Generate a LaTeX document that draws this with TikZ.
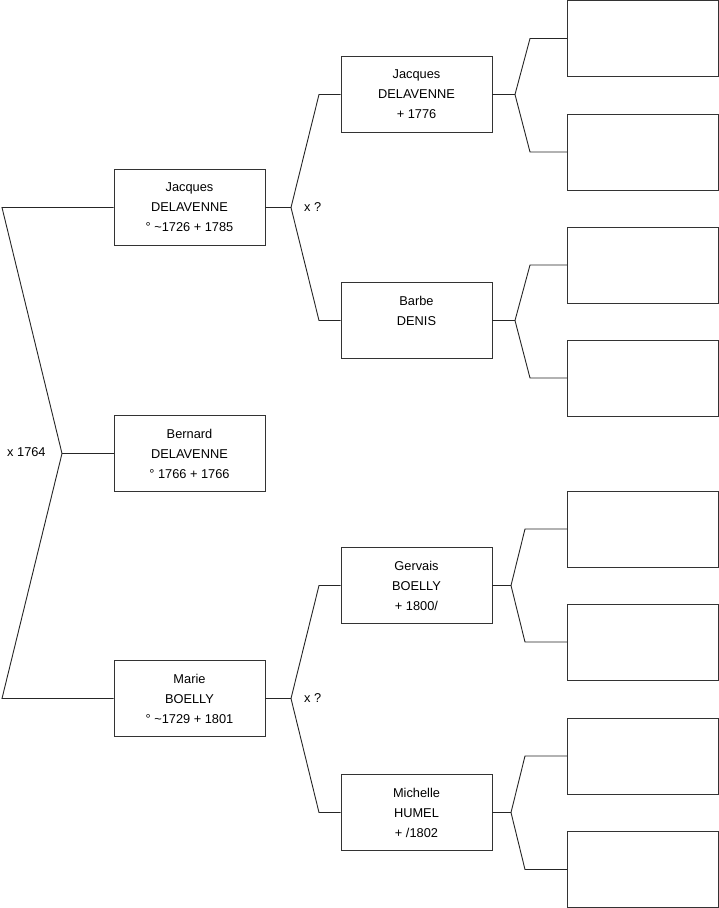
\documentclass[tikz,border=0pt]{standalone}
\usepackage{fontspec}
\setmainfont{Liberation Sans}
\begin{document}
\begin{tikzpicture}[x=1pt,y=-1pt,
  person/.style={draw=black!80, line width=0.9pt, minimum width=151pt, minimum height=76pt, inner sep=0pt, align=center, font=\fontsize{12.8}{20}\selectfont},
  link/.style={draw=black!85, line width=0.9pt},
  lbl/.style={anchor=west, inner sep=0pt, font=\fontsize{12.8}{15}\selectfont}]
\useasboundingbox (0,0) rectangle (719,908);
\fill[white] (0,0) rectangle (719,908);
% column 1
\node[person] (p1) at (189.5,207.5) {Jacques\\DELAVENNE\\° \textasciitilde1726 + 1785};
\node[person] (p2) at (189.5,453.5) {Bernard\\DELAVENNE\\° 1766 + 1766};
\node[person] (p3) at (189.5,698.5) {Marie\\BOELLY\\° \textasciitilde1729 + 1801};
% column 2
\node[person] (f1) at (416.5,94.5) {Jacques\\DELAVENNE\\+ 1776};
\node[person] (f2) at (416.5,320.5) {Barbe\\DENIS\\\phantom{1}};
\node[person] (f3) at (416.5,585.5) {Gervais\\BOELLY\\+ 1800/};
\node[person] (f4) at (416.5,812.5) {Michelle\\HUMEL\\+ /1802};
% column 3
\node[person] (g1) at (643,38.5) {};
\node[person] (g2) at (643,152) {};
\node[person] (g3) at (643,265) {};
\node[person] (g4) at (643,378) {};
\node[person] (g5) at (643,529) {};
\node[person] (g6) at (643,642) {};
\node[person] (g7) at (643,756) {};
\node[person] (g8) at (643,869.5) {};
% root fork
\coordinate (v0) at (62,453.5);
\coordinate (a0) at (2,207.5);
\coordinate (b0) at (2,698.5);
\draw[link] (p1.west) -- (a0) -- (v0) -- (b0) -- (p3.west);
\draw[link] (v0) -- (p2.west);
\node[lbl] (m0) at (7,452) {x 1764};
% forks column 1 -> 2
\coordinate (v1) at (291,207.5);
\coordinate (a1) at (319,94.5);
\coordinate (b1) at (319,320.5);
\draw[link] (p1.east) -- (v1);
\draw[link] (f1.west) -- (a1) -- (v1) -- (b1) -- (f2.west);
\node[lbl] (m1) at (304,207) {x ?};
\coordinate (v2) at (291,698.5);
\coordinate (a2) at (319,585.5);
\coordinate (b2) at (319,812.5);
\draw[link] (p3.east) -- (v2);
\draw[link] (f3.west) -- (a2) -- (v2) -- (b2) -- (f4.west);
\node[lbl] (m2) at (304,698) {x ?};
% forks column 2 -> 3
\coordinate (v3) at (515,94.5);
\draw[link] (f1.east) -- (v3);
\draw[link] (g1.west) -- (530,38.5) -- (v3) -- (530,152) -- (g2.west);
\coordinate (v4) at (515,320.5);
\draw[link] (f2.east) -- (v4);
\draw[link] (g3.west) -- (530,265) -- (v4) -- (530,378) -- (g4.west);
\coordinate (v5) at (511,585.5);
\draw[link] (f3.east) -- (v5);
\draw[link] (g5.west) -- (525,529) -- (v5) -- (525,642) -- (g6.west);
\coordinate (v6) at (511,812.5);
\draw[link] (f4.east) -- (v6);
\draw[link] (g7.west) -- (525,756) -- (v6) -- (525,869.5) -- (g8.west);
\end{tikzpicture}
\end{document}
